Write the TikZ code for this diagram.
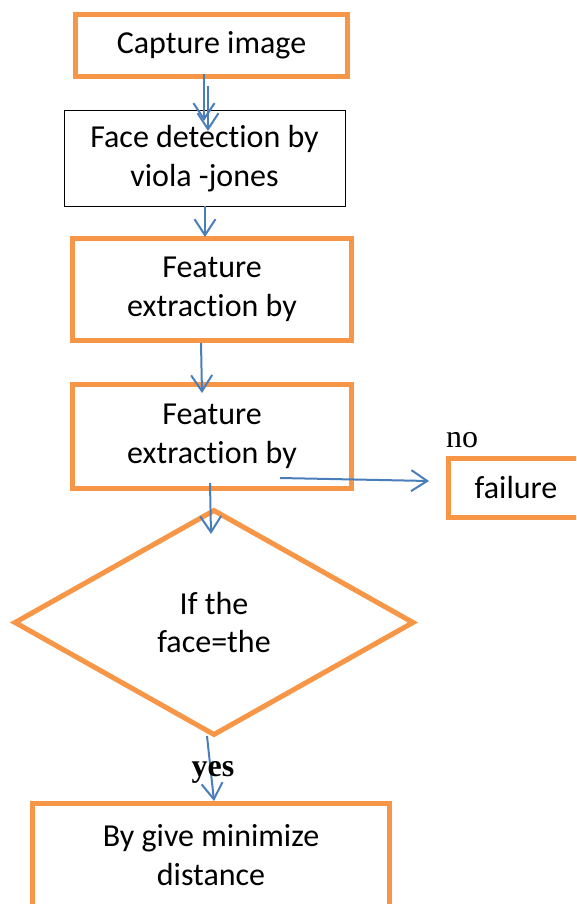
\documentclass[tikz,border=0pt]{standalone}
\usepackage{fontspec}
\setmainfont{Carlito}[Ligatures=NoCommon]
\newfontfamily\labelfont{Liberation Serif}
\usetikzlibrary{arrows.meta,shapes.geometric}
\definecolor{boxorange}{HTML}{F79646}
\definecolor{arrowblue}{HTML}{4A7EBB}
\tikzset{
  obox/.style={draw=boxorange,line width=5pt,align=center,inner sep=0pt},
  kbox/.style={draw=black,line width=1pt,align=center,inner sep=0pt},
  flow/.style={draw=arrowblue,line width=2pt,-{Straight Barb[length=16pt,width=21pt,line width=2pt]}}
}
\begin{document}
\begin{tikzpicture}[x=1pt,y=-1pt,font=\fontsize{32}{38.5}\selectfont]
\useasboundingbox (0,0) rectangle (576,904);
\clip (0,0) rectangle (576,904);
\node[obox,minimum width=272,minimum height=62] (capture) at (211.5,45.5) {Capture image};
\node[kbox,minimum width=281,minimum height=95] (detect) at (204.5,158.5) {Face detection by\\viola -jones};
\node[obox,minimum width=279,minimum height=102] (extractA) at (212,289.5) {Feature\\extraction by};
\node[obox,minimum width=279,minimum height=104] (extractB) at (212,436.5) {Feature\\extraction by};
\node[obox,minimum width=135,minimum height=59] (failure) at (516,488) {failure};
\node[shape=diamond,draw=boxorange,line width=5pt,align=center,inner sep=0pt,
      minimum width=400,minimum height=226] (test) at (214,622.5) {If the\\face=the};
\node[obox,minimum width=357,minimum height=103] (distance) at (211,855) {By give minimize\\distance};
% arrow ends
\coordinate (a1s) at (204,74);   \coordinate (a1e) at (204,121);
\coordinate (a1t) at (208,86);   \coordinate (a1f) at (208,131);
\coordinate (a2s) at (205,206);  \coordinate (a2e) at (205,237);
\coordinate (a3s) at (201,343);  \coordinate (a3e) at (202,393);
\coordinate (a4s) at (280,478);  \coordinate (a4e) at (429,481);
\coordinate (a5s) at (210,483);  \coordinate (a5e) at (211,534);
\coordinate (a6s) at (207,736);  \coordinate (a6e) at (214,801);
\draw[flow] (a1s) -- (a1e);
\draw[flow] (a1t) -- (a1f);
\draw[flow] (a2s) -- (a2e);
\draw[flow] (a3s) -- (a3e);
\draw[flow] (a4s) -- (a4e);
\draw[flow] (a5s) -- (a5e);
\draw[flow] (a6s) -- (a6e);
% labels
\node[font=\labelfont\fontsize{32}{36}\selectfont] (no) at (462,440) {no};
\node[font=\labelfont\bfseries\fontsize{32}{36}\selectfont] (yes) at (213,772) {yes};
\end{tikzpicture}
\end{document}
